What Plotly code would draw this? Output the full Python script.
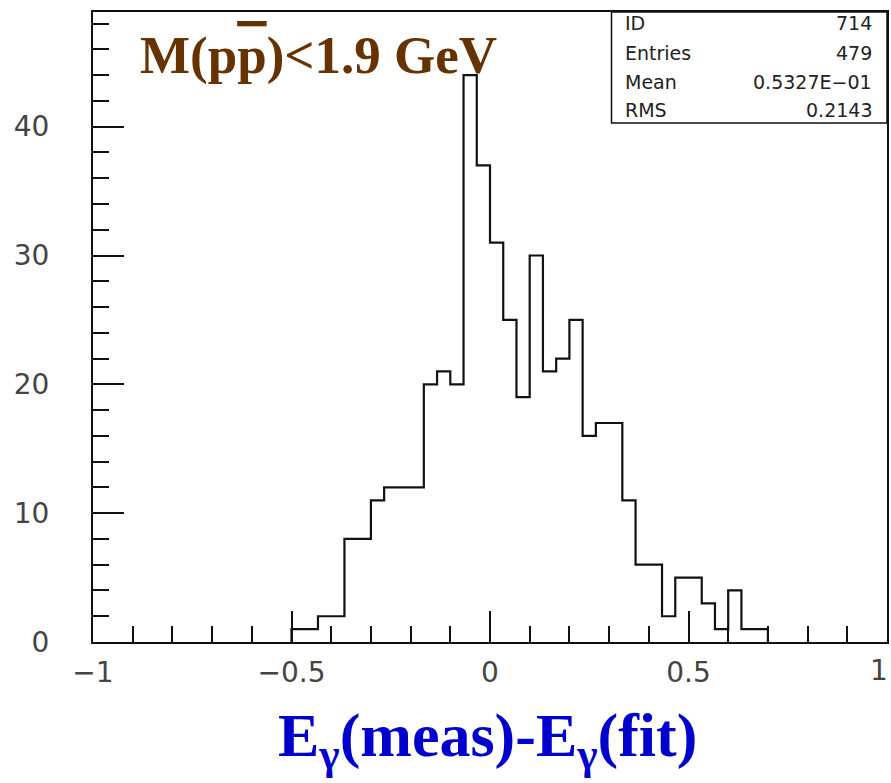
import numpy as np
import plotly.graph_objects as go

# Histogram 714: 60 bins over [-1, 1]
x_low, x_high, n_bins = -1.0, 1.0, 60
counts = [
    0, 0, 0, 0, 0, 0, 0, 0, 0, 0,
    0, 0, 0, 0, 0, 1, 1, 2, 2, 8,
    8, 11, 12, 12, 12, 20, 21, 20, 44, 37,
    31, 25, 19, 30, 21, 22, 25, 16, 17, 17,
    11, 6, 6, 2, 5, 5, 3, 1, 4, 1,
    1, 0, 0, 0, 0, 0, 0, 0, 0, 0,
]

x_ticks = [-1, -0.5, 0, 0.5, 1]
y_ticks = [0, 10, 20, 30, 40]
y_max = 48.9

stat_names = ["ID", "Entries", "Mean", "RMS"]
stat_values = ["714", "479", "0.5327E\u221201", "0.2143"]

title_text = 'M(p<span style="text-decoration:overline">p</span>)&lt;1.9 GeV'
xlabel_text = "E<sub>\u03b3</sub>(meas)-E<sub>\u03b3</sub>(fit)"

# Step outline built from the bin contents
edges = np.linspace(x_low, x_high, n_bins + 1)
nz = [i for i, c in enumerate(counts) if c > 0]
first, last = nz[0], nz[-1]
xs = [edges[first]] + list(edges[first:last + 1]) + [edges[last + 1]]
ys = [0] + counts[first:last + 1] + [0]

W, H = 891, 783
ML, MR, MT, MB = 93, 4, 12, 141
PW, PH = W - ML - MR, H - MT - MB


def px(x):
    return (x - ML) / PW


def py(y):
    return (H - MB - y) / PH


fig = go.Figure()
fig.add_trace(go.Scatter(
    x=xs, y=ys, mode="lines", line=dict(color="#111", width=2.2, shape="hv"),
    hoverinfo="skip", showlegend=False,
))

tick_font = dict(family="DejaVu Sans", size=28, color="#444")
axis_common = dict(
    showline=True, linecolor="#111", linewidth=2, mirror=True,
    ticks="inside", ticklen=31, tickwidth=2, tickcolor="#111",
    showgrid=False, zeroline=False, tickfont=tick_font,
    automargin=False,
)

# The label at the right end of the x axis sits against the page edge,
# so it is drawn separately and nudged inward.
inner_x_ticks = [v for v in x_ticks if v < x_high]

fig.update_layout(
    width=W, height=H,
    margin=dict(l=ML, r=MR, t=MT, b=MB, autoexpand=False),
    paper_bgcolor="white", plot_bgcolor="white",
    xaxis=dict(range=[x_low, x_high], tickvals=inner_x_ticks,
               minor=dict(dtick=0.1, tick0=-1, ticklen=16, tickwidth=2,
                          tickcolor="#111", ticks="inside"),
               ticklabelstandoff=4, **axis_common),
    yaxis=dict(range=[0, y_max], tickvals=y_ticks,
               minor=dict(dtick=2, tick0=0, ticklen=16, tickwidth=2,
                          tickcolor="#111", ticks="inside"),
               ticklabelstandoff=36, **axis_common),
)
fig.add_annotation(text=f"{x_high:g}", xref="x", yref="paper", x=x_high, y=0,
                   xanchor="right", yanchor="top", xshift=3, yshift=-10,
                   showarrow=False, font=tick_font)

# Statistics box
box_left, box_bottom = 611.5, 123
fig.add_shape(type="rect", xref="paper", yref="paper",
              x0=px(box_left), x1=1, y0=py(box_bottom), y1=1,
              line=dict(color="#111", width=1.5), fillcolor="white", layer="above")
row_y = [22.5, 53, 82, 109.5]
stat_font = dict(family="DejaVu Sans", size=19, color="#222")
for name, val, ry in zip(stat_names, stat_values, row_y):
    fig.add_annotation(text=name, xref="paper", yref="paper", x=px(623), y=py(ry),
                       xanchor="left", yanchor="middle", showarrow=False, font=stat_font)
    fig.add_annotation(text=val, xref="paper", yref="paper", x=px(874), y=py(ry),
                       xanchor="right", yanchor="middle", showarrow=False, font=stat_font)

# Selection label
fig.add_annotation(text=title_text, xref="paper", yref="paper", x=px(138), y=py(56),
                   xanchor="left", yanchor="middle", showarrow=False,
                   font=dict(family="Liberation Serif", size=53, color="#663300",
                             weight="bold"))

# Axis title
fig.add_annotation(text=xlabel_text, xref="paper", yref="paper", x=px(487.5), y=py(740),
                   xanchor="center", yanchor="middle", showarrow=False,
                   font=dict(family="Liberation Serif", size=62, color="#0000CC",
                             weight="bold"))

fig.write_html("out.html")
